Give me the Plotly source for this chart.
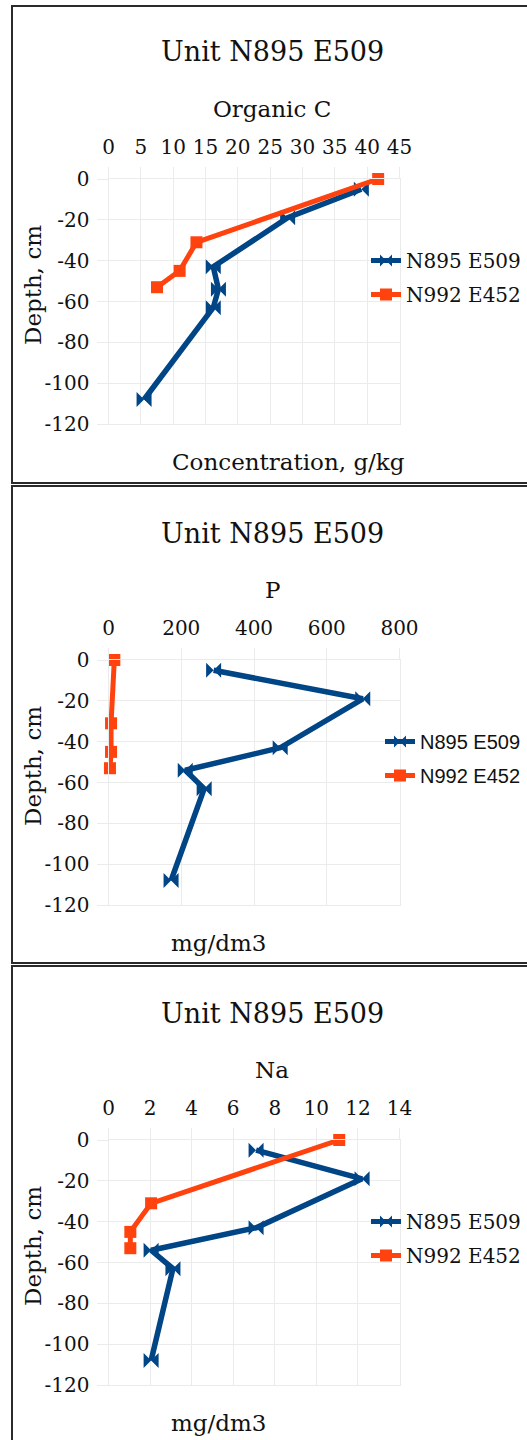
import plotly.graph_objects as go

W, H = 527, 1440

# ---------------- data ----------------
series_names = ["N895 E509", "N992 E452"]
depth_blue = [-5, -19, -43, -54, -63, -108]
depth_orange = [0, -31, -45, -53]

orgc_blue = [39.1, 27.7, 16.2, 17.0, 16.2, 5.5]
orgc_orange = [41.7, 13.6, 11.0, 7.5]

p_blue = [289, 699, 472, 211, 263, 172]
p_orange = [16, 7, 7, 4]

na_blue = [7.1, 12.2, 7.1, 2.05, 3.1, 2.05]
na_orange = [11.1, 2.05, 1.05, 1.05]

unit_title = "Unit N895 E509"
panel_titles = ["Organic C", "P", "Na"]
x_titles = ["Concentration, g/kg", "mg/dm3", "mg/dm3"]
y_title = "Depth, cm"
x_ranges = [[0, 45], [0, 800], [0, 14]]
x_dticks = [5, 200, 2]
y_tickvals = [0, -20, -40, -60, -80, -100, -120]
y_ticktext = ["0", "-20", "-40", "-60", "-80", "-100", "-120"]

blue_vals = [orgc_blue, p_blue, na_blue]
orange_vals = [orgc_orange, p_orange, na_orange]

# ---------------- layout helpers ----------------
BLUE = "#004586"
ORANGE = "#ff420e"
SERIF = "DejaVu Serif"
SANS = "Liberation Sans"
TXT = "#111111"
GRID = "#ebebeb"


def fx(px):
    return px / W


def fy(py):
    return 1 - py / H


panel_off = [0, 481, 961]
plot_left, plot_right = 108.5, 399.5
plot_top0, plot_bot0 = 179, 424
legend_fonts = [SERIF, SANS, SERIF]

fig = go.Figure()
annotations = []
shapes = []

for i in range(3):
    off = panel_off[i]
    xa = "x" if i == 0 else f"x{i+1}"
    ya = "y" if i == 0 else f"y{i+1}"
    lg = "legend" if i == 0 else f"legend{i+1}"
    fig.add_trace(go.Scatter(
        x=blue_vals[i], y=depth_blue, name=series_names[0], mode="lines+markers",
        line=dict(color=BLUE, width=5.5), marker=dict(symbol="bowtie", size=15, color=BLUE),
        xaxis=xa, yaxis=ya, legend=lg, legendgroup=f"b{i}", cliponaxis=False))
    fig.add_trace(go.Scatter(
        x=orange_vals[i], y=depth_orange, name=series_names[1], mode="lines+markers",
        line=dict(color=ORANGE, width=5), marker=dict(symbol="square", size=12, color=ORANGE),
        xaxis=xa, yaxis=ya, legend=lg, legendgroup=f"o{i}", cliponaxis=False))

    xkey = "xaxis" if i == 0 else f"xaxis{i+1}"
    ykey = "yaxis" if i == 0 else f"yaxis{i+1}"
    top = plot_top0 + off
    bot = plot_bot0 + off
    fig.layout[xkey] = dict(
        domain=[fx(plot_left), fx(plot_right)], anchor=ya, side="top",
        range=x_ranges[i], dtick=x_dticks[i], tick0=0, automargin=False,
        showgrid=True, gridcolor=GRID, gridwidth=1, zeroline=False,
        showline=True, linecolor=GRID, mirror=True,
        ticks="outside", ticklen=11, tickcolor=GRID, ticklabelstandoff=5,
        tickfont=dict(family=SERIF, size=20, color=TXT), fixedrange=True)
    fig.layout[ykey] = dict(
        domain=[fy(bot), fy(top)], anchor=xa, automargin=False,
        range=[-120, 0], tickvals=y_tickvals, ticktext=y_ticktext,
        showgrid=True, gridcolor=GRID, gridwidth=1, zeroline=False,
        showline=True, linecolor=GRID, mirror=True,
        ticks="outside", ticklen=11, tickcolor=GRID, ticklabelstandoff=3,
        tickfont=dict(family=SERIF, size=20, color=TXT), fixedrange=True)

    fig.layout[lg] = dict(
        x=fx(526), y=fy(277.5 + off), xanchor="right", yanchor="middle",
        bgcolor="rgba(0,0,0,0)", font=dict(family=legend_fonts[i], size=20, color=TXT),
        itemwidth=30, itemsizing="constant", tracegroupgap=5, borderwidth=0)

    annotations += [
        dict(text=unit_title, x=fx(272), y=fy(52 + off), xref="paper", yref="paper",
             showarrow=False, xanchor="center", yanchor="middle",
             font=dict(family=SERIF, size=27, color=TXT)),
        dict(text=panel_titles[i], x=fx(272), y=fy(109 + off), xref="paper", yref="paper",
             showarrow=False, xanchor="center", yanchor="middle",
             font=dict(family=SERIF, size=23, color=TXT)),
        dict(text=x_titles[i], x=fx(288 if i == 0 else 218), y=fy(462 + off), xref="paper", yref="paper",
             showarrow=False, xanchor="center", yanchor="middle",
             font=dict(family=SERIF, size=23, color=TXT)),
        dict(text=y_title, x=fx(33), y=fy(285 + off), xref="paper", yref="paper",
             showarrow=False, xanchor="center", yanchor="middle", textangle=-90,
             font=dict(family=SERIF, size=23, color=TXT)),
    ]

# panel borders
borders = [(6, 483), (486, 963), (966, 1445)]
for (t, b) in borders:
    shapes.append(dict(type="rect", xref="paper", yref="paper",
                       x0=fx(12), x1=fx(535), y0=fy(b), y1=fy(t),
                       line=dict(color="#2a2a2a", width=2), fillcolor="rgba(0,0,0,0)", layer="above"))

fig.update_layout(
    width=W, height=H, margin=dict(l=0, r=0, t=0, b=0, autoexpand=False),
    paper_bgcolor="white", plot_bgcolor="white",
    annotations=annotations, shapes=shapes, showlegend=True,
)

fig.write_html("out.html", config={"displayModeBar": False},
               post_script="document.body.style.margin='0';")
